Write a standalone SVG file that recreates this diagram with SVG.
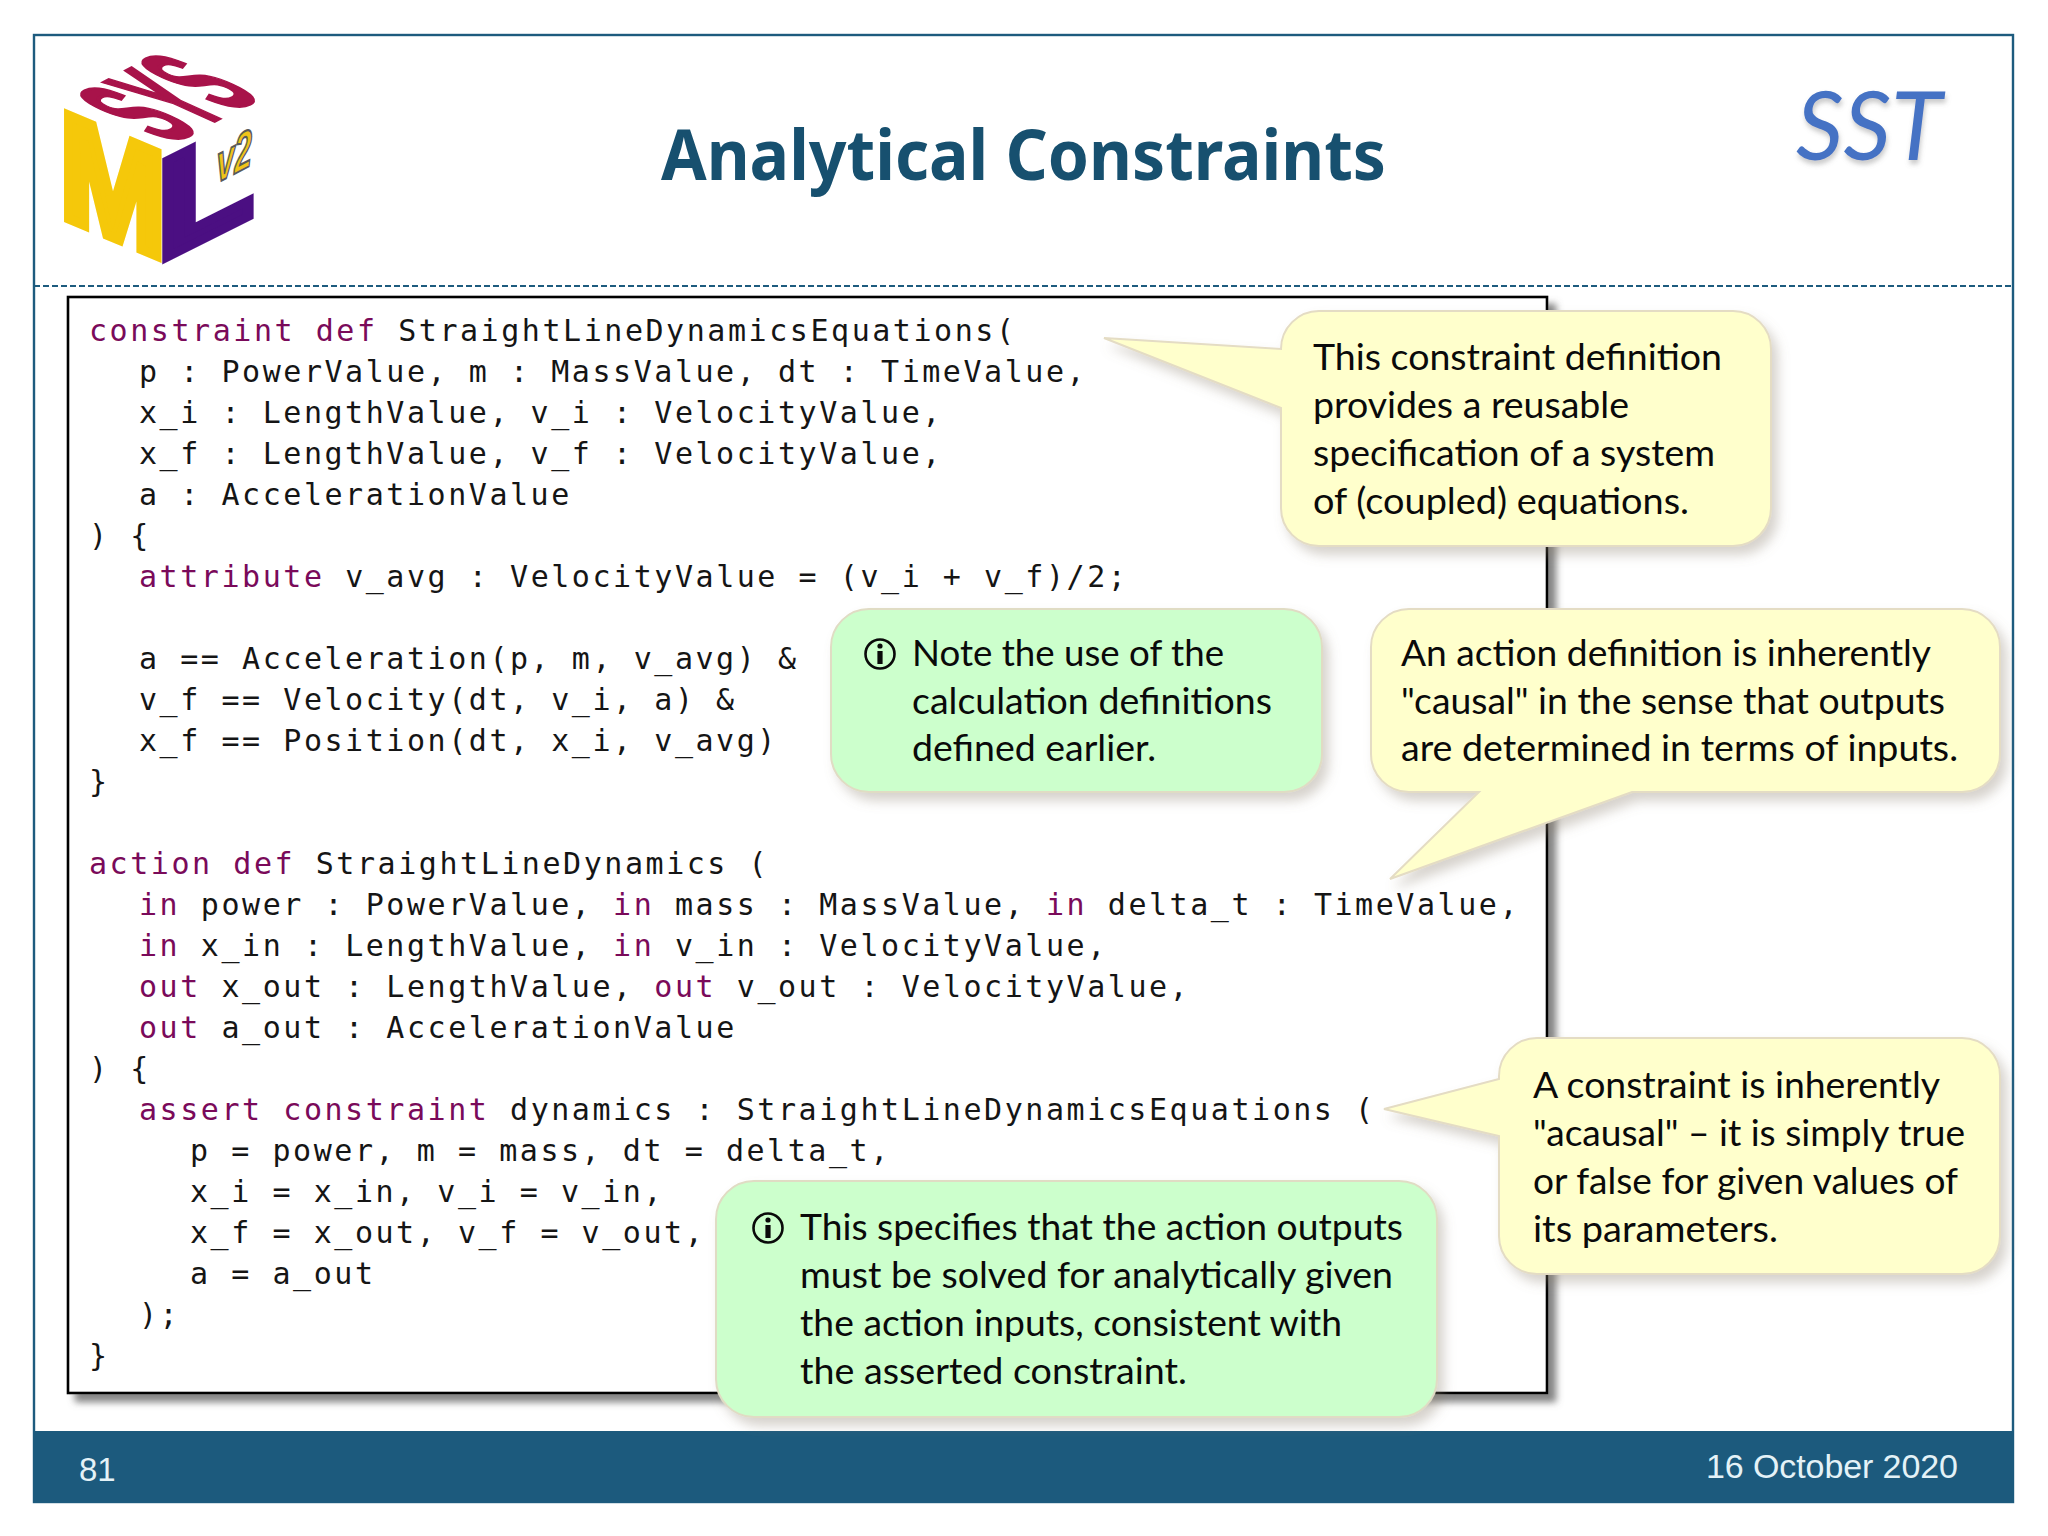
<svg xmlns="http://www.w3.org/2000/svg" width="2048" height="1536" viewBox="0 0 2048 1536">
<style>
.c{font-family:"DejaVu Sans Mono",monospace;font-size:30px;letter-spacing:2.55px;fill:#151515;white-space:pre}
.k{fill:#7a0a5a}
.t{font-family:Lato,"Open Sans",sans-serif;font-size:37px;fill:#0a0a0a}
.y{fill:#ffffcc;stroke:#e4dcc4;stroke-width:2;filter:url(#cs)}
.g{fill:#ccffcc;stroke:#e0dcc4;stroke-width:2;filter:url(#cs)}
.lg{font-family:"Liberation Sans",Arial,sans-serif;font-weight:bold;font-size:100px}
.f{font-family:"Liberation Sans",Arial,sans-serif;font-size:34px;fill:#e4f2f7}
</style>
<defs>
<filter id="cs" x="-10%" y="-10%" width="125%" height="125%"><feDropShadow dx="6" dy="8" stdDeviation="6" flood-color="#8a8070" flood-opacity=".35"/></filter>
<filter id="bs" x="-3%" y="-3%" width="106%" height="106%"><feDropShadow dx="8" dy="8" stdDeviation="3.5" flood-color="#666" flood-opacity=".8"/></filter>
<filter id="ss" x="-10%" y="-10%" width="125%" height="125%"><feDropShadow dx="1" dy="4" stdDeviation="2.5" flood-color="#777" flood-opacity=".4"/></filter>
<g id="info"><circle r="14.5" fill="none" stroke="#0a0a0a" stroke-width="2.6"/><circle cy="-8" r="2.6" fill="#0a0a0a"/><rect x="-2.6" y="-3" width="5.2" height="13" fill="#0a0a0a"/></g>
</defs>
<rect width="2048" height="1536" fill="#fff"/>
<g id="frame">
<rect x="34" y="35" width="1979" height="1467" fill="#fff" stroke="#1d5b7e" stroke-width="2.4"/>
<line x1="34" y1="286" x2="2013" y2="286" stroke="#1d5b7e" stroke-width="2" stroke-dasharray="6 3"/>
<rect x="33" y="1431" width="1981" height="71" fill="#1c5a7d"/>
<text class="f" x="79" y="1481" style="font-size:33px">81</text>
<text class="f" x="1706" y="1478" textLength="252">16 October 2020</text>
</g>
<g id="logo" transform="translate(20 20) scale(.33333)">
<text class="lg" fill="#f5c80a" stroke="#f5c80a" stroke-width="7" transform="matrix(3.8 1.6 0 4.5 120 585)">M</text>
<text class="lg" fill="#4b0f82" stroke="#4b0f82" stroke-width="7" transform="matrix(4.7 -2.35 0 4.2 412 726)">L</text>
<text class="lg" fill="#a8134a" stroke="#a8134a" stroke-width="3" transform="matrix(1.38 -.72 4.3 1.95 452 372)">SYS</text>
<text class="lg" fill="#f0c419" stroke="#5a5a5a" stroke-width="4" font-style="italic" transform="matrix(.95 -.5 0 1.6 590 490)">v2</text>
</g>
<text id="title" x="661" y="180" textLength="725" lengthAdjust="spacingAndGlyphs" font-family="'Noto Sans','Open Sans',sans-serif" font-weight="700" font-size="70" fill="#17506f">Analytical Constraints</text>
<text id="sst" x="1796" y="160" textLength="146" lengthAdjust="spacingAndGlyphs" font-family="Lato,sans-serif" font-style="italic" font-size="96" fill="#4472c4" filter="url(#ss)">SST</text>
<g id="code">
<rect x="68" y="297" width="1479" height="1096" fill="#fff" stroke="#000" stroke-width="2.6" filter="url(#bs)"/>
<text class="c" x="89" y="341"><tspan class="k">constraint def</tspan> StraightLineDynamicsEquations(</text>
<text class="c" x="139" y="382">p : PowerValue, m : MassValue, dt : TimeValue,</text>
<text class="c" x="139" y="423">x_i : LengthValue, v_i : VelocityValue,</text>
<text class="c" x="139" y="464">x_f : LengthValue, v_f : VelocityValue,</text>
<text class="c" x="139" y="505">a : AccelerationValue</text>
<text class="c" x="89" y="546">) {</text>
<text class="c" x="139" y="587"><tspan class="k">attribute</tspan> v_avg : VelocityValue = (v_i + v_f)/2;</text>
<text class="c" x="139" y="669">a == Acceleration(p, m, v_avg) &amp;</text>
<text class="c" x="139" y="710">v_f == Velocity(dt, v_i, a) &amp;</text>
<text class="c" x="139" y="751">x_f == Position(dt, x_i, v_avg)</text>
<text class="c" x="89" y="792">}</text>
<text class="c" x="89" y="874"><tspan class="k">action def</tspan> StraightLineDynamics (</text>
<text class="c" x="139" y="915"><tspan class="k">in</tspan> power : PowerValue, <tspan class="k">in</tspan> mass : MassValue, <tspan class="k">in</tspan> delta_t : TimeValue,</text>
<text class="c" x="139" y="956"><tspan class="k">in</tspan> x_in : LengthValue, <tspan class="k">in</tspan> v_in : VelocityValue,</text>
<text class="c" x="139" y="997"><tspan class="k">out</tspan> x_out : LengthValue, <tspan class="k">out</tspan> v_out : VelocityValue,</text>
<text class="c" x="139" y="1038"><tspan class="k">out</tspan> a_out : AccelerationValue</text>
<text class="c" x="89" y="1079">) {</text>
<text class="c" x="139" y="1120"><tspan class="k">assert constraint</tspan> dynamics : StraightLineDynamicsEquations (</text>
<text class="c" x="190" y="1161">p = power, m = mass, dt = delta_t,</text>
<text class="c" x="190" y="1202">x_i = x_in, v_i = v_in,</text>
<text class="c" x="190" y="1243">x_f = x_out, v_f = v_out,</text>
<text class="c" x="190" y="1284">a = a_out</text>
<text class="c" x="139" y="1325">);</text>
<text class="c" x="89" y="1366">}</text>
</g>
<g id="note-constraint-def">
<path class="y" d="M1319 311H1733A38 38 0 0 1 1771 349V508A38 38 0 0 1 1733 546H1319A38 38 0 0 1 1281 508V408L1104 338L1281 349A38 38 0 0 1 1319 311Z"/>
<text class="t" x="1313" y="370" textLength="409" lengthAdjust="spacingAndGlyphs">This constraint definition</text>
<text class="t" x="1313" y="418" textLength="316" lengthAdjust="spacingAndGlyphs">provides a reusable</text>
<text class="t" x="1313" y="466" textLength="402" lengthAdjust="spacingAndGlyphs">specification of a system</text>
<text class="t" x="1313" y="514" textLength="376" lengthAdjust="spacingAndGlyphs">of (coupled) equations.</text>
</g>
<g id="note-calculations">
<rect class="g" x="831" y="609" width="491" height="183" rx="38"/>
<use href="#info" x="880" y="654"/>
<text class="t" x="912" y="666" textLength="312" lengthAdjust="spacingAndGlyphs">Note the use of the</text>
<text class="t" x="912" y="714" textLength="360" lengthAdjust="spacingAndGlyphs">calculation definitions</text>
<text class="t" x="912" y="761" textLength="244" lengthAdjust="spacingAndGlyphs">defined earlier.</text>
</g>
<g id="note-action-def">
<path class="y" d="M1409 609H1962A38 38 0 0 1 2000 647V754A38 38 0 0 1 1962 792H1632L1390 879L1479 792H1409A38 38 0 0 1 1371 754V647A38 38 0 0 1 1409 609Z"/>
<text class="t" x="1401" y="666" textLength="530" lengthAdjust="spacingAndGlyphs">An action definition is inherently</text>
<text class="t" x="1401" y="714" textLength="544" lengthAdjust="spacingAndGlyphs">"causal" in the sense that outputs</text>
<text class="t" x="1401" y="761" textLength="557" lengthAdjust="spacingAndGlyphs">are determined in terms of inputs.</text>
</g>
<g id="note-acausal">
<path class="y" d="M1537 1038H1962A38 38 0 0 1 2000 1076V1236A38 38 0 0 1 1962 1274H1537A38 38 0 0 1 1499 1236V1136L1384 1109L1499 1079V1076A38 38 0 0 1 1537 1038Z"/>
<text class="t" x="1533" y="1098" textLength="407" lengthAdjust="spacingAndGlyphs">A constraint is inherently</text>
<text class="t" x="1533" y="1146" textLength="432" lengthAdjust="spacingAndGlyphs">"acausal" – it is simply true</text>
<text class="t" x="1533" y="1194" textLength="425" lengthAdjust="spacingAndGlyphs">or false for given values of</text>
<text class="t" x="1533" y="1242" textLength="245" lengthAdjust="spacingAndGlyphs">its parameters.</text>
</g>
<g id="note-assert">
<rect class="g" x="716" y="1181" width="721" height="236" rx="38"/>
<use href="#info" x="768" y="1228"/>
<text class="t" x="800" y="1240" textLength="603" lengthAdjust="spacingAndGlyphs">This specifies that the action outputs</text>
<text class="t" x="800" y="1288" textLength="593" lengthAdjust="spacingAndGlyphs">must be solved for analytically given</text>
<text class="t" x="800" y="1336" textLength="542" lengthAdjust="spacingAndGlyphs">the action inputs, consistent with</text>
<text class="t" x="800" y="1384" textLength="387" lengthAdjust="spacingAndGlyphs">the asserted constraint.</text>
</g>
</svg>
